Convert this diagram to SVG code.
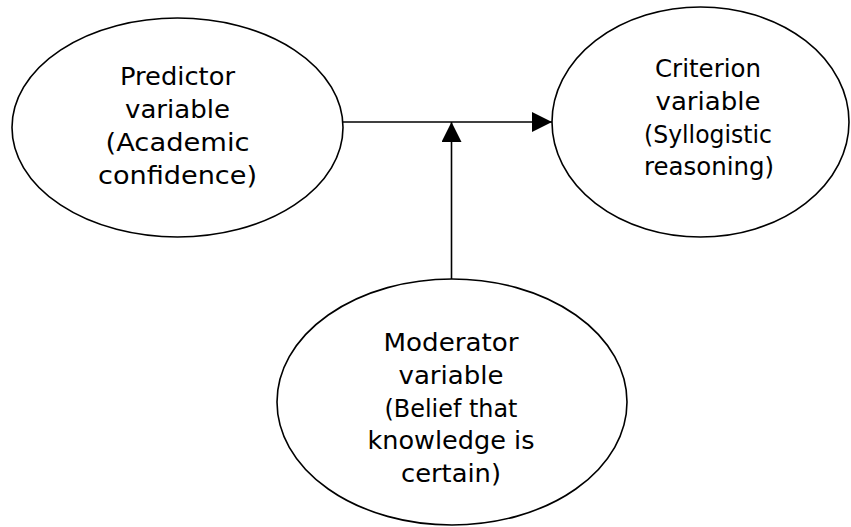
<svg xmlns="http://www.w3.org/2000/svg" width="851" height="527" viewBox="0 0 851 527">
<style>
.node ellipse{fill:#fff;stroke:#000;stroke-width:1.6}
.node text{font-family:"DejaVu Sans","Liberation Sans",sans-serif;font-size:25px;fill:#000;text-anchor:middle}
.edge{stroke:#000;stroke-width:1.6;fill:none}
</style>
<defs>
<marker id="arr" markerUnits="userSpaceOnUse" markerWidth="22" markerHeight="22" refX="20" refY="10" orient="auto">
<path d="M0,0 L20,10 L0,20 Z" fill="#000"/>
</marker>
</defs>
<rect width="851" height="527" fill="#fff"/>
<g id="predictor" class="node">
<ellipse cx="177.5" cy="127.5" rx="165.5" ry="109.5"/>
<text x="177.5" y="85" textLength="115" lengthAdjust="spacingAndGlyphs">Predictor</text>
<text x="177.5" y="118" textLength="105" lengthAdjust="spacingAndGlyphs">variable</text>
<text x="177.5" y="151" textLength="144" lengthAdjust="spacingAndGlyphs">(Academic</text>
<text x="177.5" y="184" textLength="159" lengthAdjust="spacingAndGlyphs">confidence)</text>
</g>
<g id="criterion" class="node">
<ellipse cx="700.5" cy="122" rx="148.5" ry="115"/>
<text x="708" y="77" textLength="106" lengthAdjust="spacingAndGlyphs">Criterion</text>
<text x="708" y="110" textLength="105" lengthAdjust="spacingAndGlyphs">variable</text>
<text x="708" y="143" textLength="128" lengthAdjust="spacingAndGlyphs">(Syllogistic</text>
<text x="709" y="175" textLength="130" lengthAdjust="spacingAndGlyphs">reasoning)</text>
</g>
<g id="moderator" class="node">
<ellipse cx="452" cy="402" rx="175" ry="123"/>
<text x="451" y="351" textLength="135" lengthAdjust="spacingAndGlyphs">Moderator</text>
<text x="451" y="384" textLength="105" lengthAdjust="spacingAndGlyphs">variable</text>
<text x="451" y="417" textLength="133" lengthAdjust="spacingAndGlyphs">(Belief that</text>
<text x="451" y="449" textLength="167" lengthAdjust="spacingAndGlyphs">knowledge is</text>
<text x="451" y="482" textLength="100" lengthAdjust="spacingAndGlyphs">certain)</text>
</g>
<g id="connectors">
<line class="edge" x1="343" y1="122" x2="552" y2="122" marker-end="url(#arr)"/>
<line class="edge" x1="451.5" y1="279" x2="451.5" y2="122" marker-end="url(#arr)"/>
</g>
</svg>
